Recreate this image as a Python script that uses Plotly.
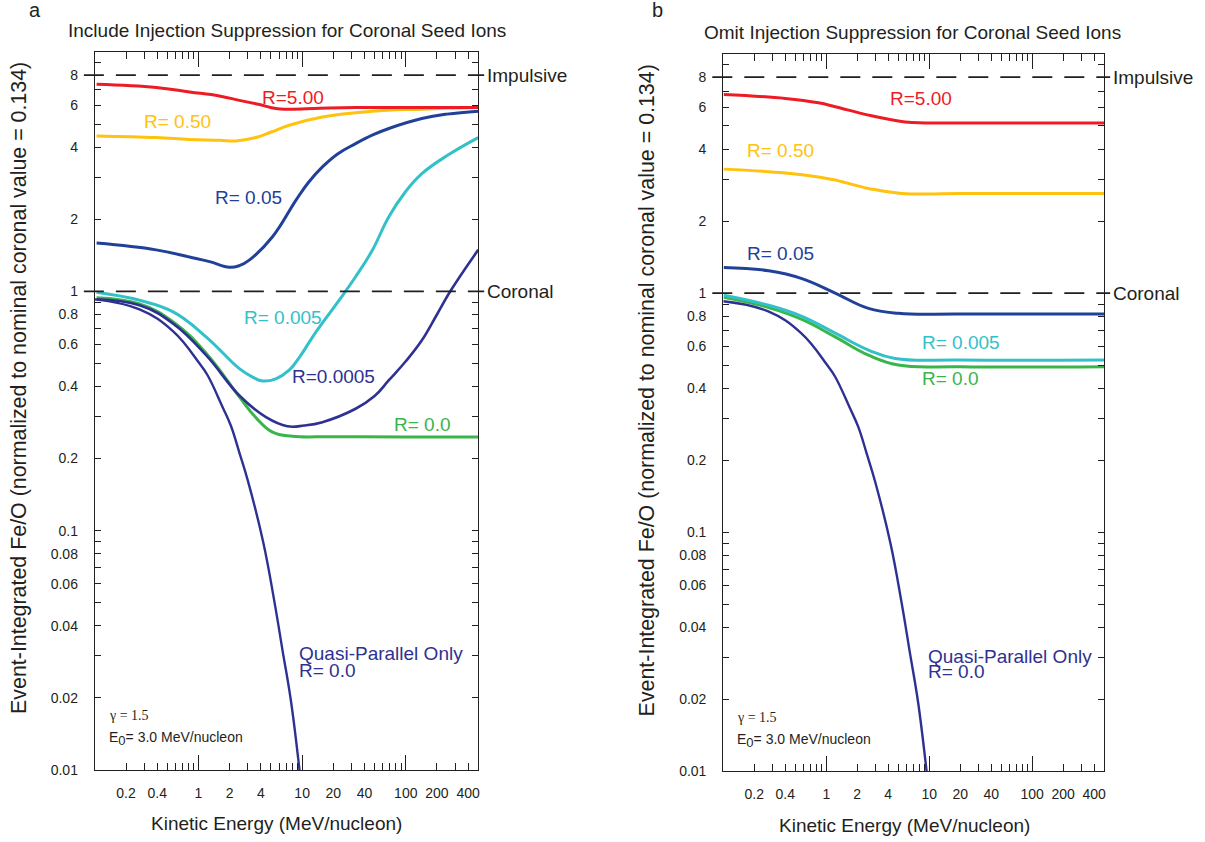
import numpy as np
import plotly.graph_objects as go

# ---------------- data ----------------
# Panel a: include injection suppression for coronal seed ions
a_r500_E = [0.104, 0.39, 0.82, 1.59, 2.48, 3.86, 5.58, 7.5, 15, 32.8, 100, 500]
a_r500_V = [7.33, 7.11, 6.81, 6.55, 6.28, 6.03, 5.80, 5.77, 5.82, 5.86, 5.86, 5.86]

a_r050_E = [0.104, 0.39, 0.82, 1.59, 2.30, 3.59, 5.03, 7.5, 15.7, 47.4, 143, 500]
a_r050_V = [4.46, 4.39, 4.31, 4.28, 4.25, 4.39, 4.63, 4.94, 5.35, 5.65, 5.77, 5.86]

a_r005_E = [0.104, 0.39, 0.82, 1.28, 1.99, 2.48, 3.09, 5.18, 8.7, 11.5, 15.7, 22, 32.8,
            48, 68.7, 143, 250, 500]
a_r005_V = [1.59, 1.49, 1.39, 1.33, 1.26, 1.28, 1.35, 1.69, 2.40, 2.85, 3.31, 3.75, 4.14,
            4.50, 4.79, 5.27, 5.50, 5.66]

a_r0005_E = [0.104, 0.27, 0.57, 1.19, 2.48, 3.33, 4.15, 5.58, 7.5, 9.7, 12.6, 16.9, 22.7,
             32.8, 47.4, 68.7, 99, 143, 258, 500]
a_r0005_V = [0.99, 0.917, 0.82, 0.644, 0.475, 0.438, 0.422, 0.431, 0.468, 0.54, 0.644, 0.77,
             0.917, 1.15, 1.48, 2.05, 2.60, 3.10, 3.72, 4.39]

a_r00005_E = [0.104, 0.27, 0.57, 1.19, 2.48, 4.48, 7.2, 10.5, 15.7, 32.8, 50, 68.7, 100,
              143, 200, 269, 500]
a_r00005_V = [0.926, 0.874, 0.733, 0.54, 0.367, 0.298, 0.273, 0.275, 0.284, 0.323, 0.365,
              0.425, 0.51, 0.624, 0.80, 1.0, 1.49]

a_r0_E = [0.104, 0.27, 0.57, 1.19, 2.48, 3.5, 5.18, 8.07, 20, 100, 500]
a_r0_V = [0.94, 0.885, 0.745, 0.55, 0.362, 0.30, 0.258, 0.248, 0.247, 0.246, 0.246]

# Panel b: omit injection suppression
b_r500_E = [0.101, 0.40, 0.84, 1.22, 2.57, 5.83, 9.1, 30, 500]
b_r500_V = [6.77, 6.52, 6.25, 6.02, 5.55, 5.20, 5.15, 5.15, 5.15]

b_r050_E = [0.101, 0.40, 0.84, 1.22, 2.57, 5.4, 20, 500]
b_r050_V = [3.30, 3.18, 3.06, 2.97, 2.74, 2.61, 2.61, 2.61]

b_r005_E = [0.101, 0.276, 0.58, 1.22, 2.57, 5.0, 20, 500]
b_r005_V = [1.28, 1.24, 1.15, 1.0, 0.863, 0.823, 0.817, 0.817]

b_r0005_E = [0.101, 0.276, 0.58, 1.22, 2.57, 4.66, 20, 500]
b_r0005_V = [0.98, 0.89, 0.80, 0.68, 0.578, 0.533, 0.525, 0.525]

b_r0_E = [0.101, 0.276, 0.58, 1.22, 2.57, 5.0, 20, 500]
b_r0_V = [0.96, 0.87, 0.776, 0.656, 0.55, 0.50, 0.492, 0.492]

# Quasi-parallel only, R = 0.0 (same in both panels)
qpar_E = [0.1, 0.27, 0.57, 1.02, 1.22, 1.71, 2.05, 2.48, 2.98, 4.2, 5.38, 6.47, 7.79, 9.36, 9.6]
qpar_V = [0.925, 0.84, 0.68, 0.50, 0.447, 0.328, 0.275, 0.212, 0.163, 0.09, 0.051, 0.0316,
          0.0195, 0.0103, 0.0093]

IMPULSIVE = 8.0
CORONAL = 1.0

x_tickvals = [0.2, 0.4, 1, 2, 4, 10, 20, 40, 100, 200, 400]
x_ticktext = ["0.2", "0.4", "1", "2", "4", "10", "20", "40", "100", "200", "400"]
x_minor = [0.3, 0.5, 0.6, 0.7, 0.8, 0.9, 3, 5, 6, 7, 8, 9, 30, 50, 60, 70, 80, 90, 300]
x_decades = [1, 10, 100]
y_tickvals = [0.01, 0.02, 0.04, 0.06, 0.08, 0.1, 0.2, 0.4, 0.6, 0.8, 1, 2, 4, 6, 8]
y_ticktext = ["0.01", "0.02", "0.04", "0.06", "0.08", "0.1", "0.2", "0.4", "0.6", "0.8",
              "1", "2", "4", "6", "8"]
y_minor = [0.03, 0.05, 0.07, 0.09, 0.3, 0.5, 0.7, 0.9, 3, 5, 7, 9]
X_MIN, X_MAX = 0.1, 500
Y_MIN, Y_MAX = 0.01, 10

# ---------------- styling ----------------
RED = "#ED1C24"
YELLOW = "#FFC20E"
BLUE = "#21409A"
INDIGO = "#2E3192"
CYAN = "#33C1C9"
GREEN = "#39B54A"
INK = "#231F20"
FONT = "Liberation Sans, Arial, sans-serif"
SERIF = "Liberation Serif, Times New Roman, serif"

W, H = 1205, 842
# vertical positions below are given in screen pixels; the page is displayed
# about 1% shorter than the figure, so they are stretched back by this factor
VSCALE = 850 / 842

fig = go.Figure()


def curve(E, V, color, width, xa, ya):
    fig.add_trace(go.Scatter(
        x=E, y=V, mode="lines", xaxis=xa, yaxis=ya,
        line=dict(color=color, width=width, shape="spline", smoothing=1.2),
        hoverinfo="skip", showlegend=False))


# panel a
curve(a_r050_E, a_r050_V, YELLOW, 3, "x", "y")
curve(a_r500_E, a_r500_V, RED, 3, "x", "y")
curve(a_r005_E, a_r005_V, BLUE, 3, "x", "y")
curve(a_r0005_E, a_r0005_V, CYAN, 3, "x", "y")
curve(a_r0_E, a_r0_V, GREEN, 3, "x", "y")
curve(a_r00005_E, a_r00005_V, INDIGO, 2.6, "x", "y")
curve(qpar_E, qpar_V, INDIGO, 2.4, "x", "y")
# panel b
curve(b_r500_E, b_r500_V, RED, 3, "x2", "y2")
curve(b_r050_E, b_r050_V, YELLOW, 3, "x2", "y2")
curve(b_r005_E, b_r005_V, BLUE, 3, "x2", "y2")
curve(b_r0_E, b_r0_V, GREEN, 3, "x2", "y2")
curve(b_r0005_E, b_r0005_V, CYAN, 3, "x2", "y2")
curve(qpar_E, qpar_V, INDIGO, 2.4, "x2", "y2")

# invisible anchors for the overlay axes that carry the long decade ticks
for xa, ya in (("x3", "y"), ("x4", "y2")):
    fig.add_trace(go.Scatter(x=[1], y=[1], xaxis=xa, yaxis=ya, mode="markers",
                             marker=dict(opacity=0), hoverinfo="skip", showlegend=False))

# panel geometry (screen pixels)
panels = {
    "a": dict(x0=95, x1=479, top=52, bottom=770, xa="x", ya="y"),
    "b": dict(x0=724.5, x1=1106, top=54, bottom=771.4, xa="x2", ya="y2"),
}


def py(y):
    """screen pixel row -> paper fraction"""
    return 1 - y * VSCALE / H


def xdom(p):
    return [p["x0"] / W, p["x1"] / W]


def ydom(p):
    return [py(p["bottom"]), py(p["top"])]


def xaxis_cfg(p):
    return dict(type="log", range=[np.log10(X_MIN), np.log10(X_MAX)], domain=xdom(p),
                showline=True, linecolor=INK, linewidth=1.2, mirror="allticks",
                ticks="inside", ticklen=7, tickwidth=1, tickcolor=INK,
                tickvals=x_tickvals, ticktext=x_ticktext, ticklabelstandoff=10,
                tickfont=dict(family=FONT, size=14, color=INK),
                minor=dict(tickvals=x_minor, ticks="inside", ticklen=7, tickcolor=INK,
                           showgrid=False),
                showgrid=False, zeroline=False, fixedrange=True)


def yaxis_cfg(p):
    return dict(type="log", range=[np.log10(Y_MIN), np.log10(Y_MAX)], domain=ydom(p),
                showline=True, linecolor=INK, linewidth=1.2, mirror="allticks",
                ticks="inside", ticklen=6, tickwidth=1, tickcolor=INK,
                tickvals=y_tickvals, ticktext=y_ticktext, ticklabelstandoff=13,
                tickfont=dict(family=FONT, size=14, color=INK),
                minor=dict(tickvals=y_minor, ticks="inside", ticklen=6, tickcolor=INK,
                           showgrid=False),
                showgrid=False, zeroline=False, fixedrange=True)


def decade_axis(p, over, anchor):
    return dict(type="log", range=[np.log10(X_MIN), np.log10(X_MAX)], domain=xdom(p),
                overlaying=over, anchor=anchor, showline=False, mirror="allticks",
                ticks="inside", ticklen=15, tickwidth=1, tickcolor=INK,
                tickvals=x_decades, showticklabels=False, showgrid=False,
                zeroline=False, fixedrange=True)


fig.update_layout(
    width=W, height=H, margin=dict(l=0, r=0, t=0, b=0),
    paper_bgcolor="white", plot_bgcolor="white", showlegend=False,
    xaxis=dict(xaxis_cfg(panels["a"]), anchor="y"),
    yaxis=dict(yaxis_cfg(panels["a"]), anchor="x"),
    xaxis2=dict(xaxis_cfg(panels["b"]), anchor="y2"),
    yaxis2=dict(yaxis_cfg(panels["b"]), anchor="x2"),
    xaxis3=decade_axis(panels["a"], "x", "y"),
    xaxis4=decade_axis(panels["b"], "x2", "y2"),
)

ann = []


def text(x, y, s, size=19, color=INK, xref="paper", yref="paper", xanchor="center",
         yanchor="middle", angle=0, family=FONT, align="left"):
    ann.append(dict(x=x, y=y, xref=xref, yref=yref, text=s, showarrow=False,
                    xanchor=xanchor, yanchor=yanchor, textangle=angle, align=align,
                    font=dict(family=family, size=size, color=color)))


def ylevel(v):
    return (np.log10(v) - np.log10(Y_MIN)) / (np.log10(Y_MAX) - np.log10(Y_MIN))


shapes = []
titles = {
    "a": ("a", "Include Injection Suppression for Coronal Seed Ions", 35, 287),
    "b": ("b", "Omit Injection Suppression for Coronal Seed Ions", 659, 914),
}
for key, p in panels.items():
    letter, ttl, lx, tx = titles[key]
    text(lx / W, py(10), letter, size=20)
    text(tx / W, py(p["top"] - 21), ttl, size=19)
    # reference levels
    for lvl, name in ((IMPULSIVE, "Impulsive"), (CORONAL, "Coronal")):
        shapes.append(dict(type="line", xref="paper", yref=f"{p['ya']} domain",
                           x0=(p["x0"] - 11) / W, x1=(p["x1"] + 6) / W,
                           y0=ylevel(lvl), y1=ylevel(lvl),
                           line=dict(color=INK, width=1.8, dash="20px,12px")))
        text((p["x1"] + 7) / W, np.log10(lvl), name, xref="paper", yref=p["ya"],
             xanchor="left")
    # axis titles
    text((p["x0"] + p["x1"]) / 2 / W - 0.008, py(p["bottom"] + 54),
         "Kinetic Energy (MeV/nucleon)", size=19)
    text((p["x0"] - 76) / W, py(p["top"] + 336),
         "Event-Integrated Fe/O (normalized to nominal coronal value = 0.134)",
         size=21.4, angle=-90)
    # model parameters
    text((p["x0"] + 12) / W, py(p["bottom"] - 54), "γ = 1.5", size=14,
         xanchor="left", family=SERIF)
    text((p["x0"] + 12) / W, py(p["bottom"] - 31),
         "E<sub><span style='font-size:13px'>0</span></sub>= 3.0 MeV/nucleon",
         size=14, xanchor="left")


def lab(E, V, s, color, xa, ya, xanchor="center"):
    text(np.log10(E), np.log10(V), s, color=color, xref=xa, yref=ya, xanchor=xanchor)


# panel a labels
lab(8.2, 6.47, "R=5.00", RED, "x", "y")
lab(0.63, 5.14, "R= 0.50", YELLOW, "x", "y")
lab(3.03, 2.47, "R= 0.05", BLUE, "x", "y")
lab(6.55, 0.776, "R= 0.005", CYAN, "x", "y")
lab(20, 0.44, "R=0.0005", INDIGO, "x", "y")
lab(144, 0.278, "R= 0.0", GREEN, "x", "y")
lab(8.93, 0.0307, "Quasi-Parallel Only", INDIGO, "x", "y", xanchor="left")
lab(8.93, 0.0260, "R= 0.0", INDIGO, "x", "y", xanchor="left")
# panel b labels
lab(8.35, 6.53, "R=5.00", RED, "x2", "y2")
lab(0.36, 3.93, "R= 0.50", YELLOW, "x2", "y2")
lab(0.36, 1.47, "R= 0.05", BLUE, "x2", "y2")
lab(8.2, 0.62, "R= 0.005", CYAN, "x2", "y2", xanchor="left")
lab(8.2, 0.439, "R= 0.0", GREEN, "x2", "y2", xanchor="left")
lab(9.38, 0.0303, "Quasi-Parallel Only", INDIGO, "x2", "y2", xanchor="left")
lab(9.38, 0.0261, "R= 0.0", INDIGO, "x2", "y2", xanchor="left")

fig.update_layout(annotations=ann, shapes=shapes)
fig.write_html("out.html")
